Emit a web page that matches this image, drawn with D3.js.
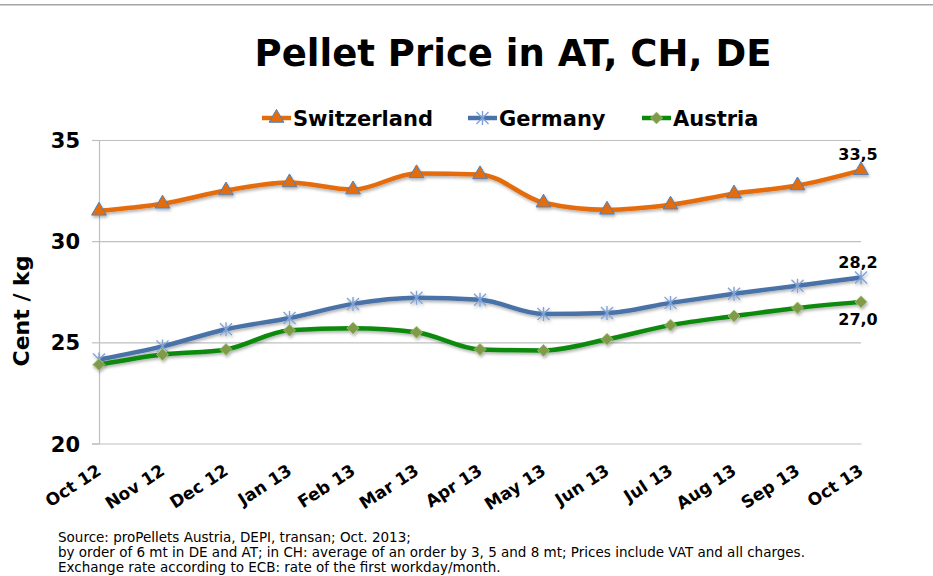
<!DOCTYPE html>
<html>
<head>
<meta charset="utf-8">
<script src="https://cdn.jsdelivr.net/npm/d3@7"></script>
<style>
  body { margin: 0; background: #fff; }
  svg { display: block; font-family: "DejaVu Sans", Verdana, sans-serif; }
</style>
</head>
<body>
<div id="chart"></div>
<script>
// month labels on the x axis
const months = ["Oct 12", "Nov 12", "Dec 12", "Jan 13", "Feb 13", "Mar 13", "Apr 13",
                "May 13", "Jun 13", "Jul 13", "Aug 13", "Sep 13", "Oct 13"];

// cent / kg
const switzerland = [31.5, 31.85, 32.5, 32.9, 32.55, 33.35, 33.3, 31.9, 31.55, 31.8, 32.35, 32.75, 33.5];
const germany     = [24.15, 24.8, 25.65, 26.2, 26.9, 27.2, 27.1, 26.4, 26.45, 26.95, 27.4, 27.8, 28.2];
const austria     = [23.9, 24.4, 24.65, 25.6, 25.7, 25.5, 24.65, 24.6, 25.15, 25.85, 26.3, 26.7, 27.0];

const yTicks = [20, 25, 30, 35];

const footnotes = [
  "Source: proPellets Austria, DEPI, transan; Oct. 2013;",
  "by order of 6 mt in DE and AT; in CH: average of an order by 3, 5 and 8 mt; Prices include VAT and all charges.",
  "Exchange rate according to ECB: rate of the first workday/month."
];

const series = [
  {name: "Switzerland", values: switzerland, line: "#E46C0A", marker: "triangle", label: "33,5", labelDy: -10},
  {name: "Germany", values: germany, line: "#4A72A8", marker: "star", label: "28,2", labelDy: -10},
  {name: "Austria", values: austria, line: "#0A8A0A", marker: "diamond", label: "27,0", labelDy: 23}
];

const W = 933, H = 576;
const svg = d3.select("#chart").append("svg")
    .attr("width", W)
    .attr("height", H);

const defs = svg.append("defs");
defs.append("filter").attr("id", "shadow")
    .attr("x", "-20%").attr("y", "-20%").attr("width", "140%").attr("height", "160%")
  .append("feDropShadow")
    .attr("dx", 1).attr("dy", 2).attr("stdDeviation", 1.4)
    .attr("flood-color", "#000").attr("flood-opacity", 0.3);

// thin border at the very top
svg.append("line").attr("x1", 0).attr("x2", W).attr("y1", 4.5).attr("y2", 4.5)
    .attr("stroke", "#a6a6a6").attr("stroke-width", 1);
svg.append("line").attr("x1", 0).attr("x2", W).attr("y1", 5.5).attr("y2", 5.5)
    .attr("stroke", "#d0d0d0").attr("stroke-width", 1);

const x = d3.scalePoint().domain(months).range([99, 861]);
const y = d3.scaleLinear().domain([20, 35]).range([443.5, 140]);

// gridlines
svg.append("g")
    .attr("transform", "translate(99,0)")
    .call(d3.axisLeft(y).tickValues(yTicks.slice(1)).tickSize(-(861 - 99)).tickFormat(""))
    .call(g => g.select(".domain").remove())
    .call(g => g.selectAll("line").attr("stroke", "#bfbfbf").attr("stroke-width", 1.2));

// y axis
svg.append("g")
    .attr("transform", "translate(99,0)")
    .call(d3.axisLeft(y).tickValues(yTicks).tickSize(7).tickPadding(12))
    .call(g => g.select(".domain").attr("stroke", "#bfbfbf").attr("stroke-width", 1.2))
    .call(g => g.selectAll(".tick line").attr("stroke", "#bfbfbf").attr("stroke-width", 1.2))
    .call(g => g.selectAll("text")
        .attr("font-family", "DejaVu Sans, Verdana, sans-serif")
        .attr("font-size", 21).attr("font-weight", "bold").attr("fill", "#000")
        .attr("dy", "0.36em"));

// x axis
svg.append("g")
    .attr("transform", `translate(0,${y(20)})`)
    .call(d3.axisBottom(x).tickSize(0))
    .call(g => g.select(".domain").attr("stroke", "#bfbfbf").attr("stroke-width", 1.2))
    .call(g => g.selectAll("text")
        .attr("font-family", "DejaVu Sans, Verdana, sans-serif")
        .attr("font-size", 17).attr("font-weight", "bold").attr("fill", "#000")
        .attr("text-anchor", "end")
        .attr("dy", 0)
        .attr("y", 0)
        .attr("transform", "translate(3,30) rotate(-33)"));

// y title
svg.append("text")
    .attr("transform", "translate(29,311) rotate(-90)")
    .attr("text-anchor", "middle")
    .attr("font-size", 22).attr("font-weight", "bold")
    .text("Cent / kg");

// title
svg.append("text")
    .attr("x", 513).attr("y", 66)
    .attr("text-anchor", "middle")
    .attr("font-size", 37).attr("font-weight", "bold")
    .text("Pellet Price in AT, CH, DE");

function drawMarker(sel, s) {
  if (s.marker === "triangle") {
    sel.append("path")
        .attr("d", d3.symbol(d3.symbolTriangle, 95)())
        .attr("fill", "#E46C0A").attr("stroke", "#4F81BD").attr("stroke-width", 1);
  } else if (s.marker === "star") {
    sel.append("path")
        .attr("d", "M-6,-6L6,6M-6,6L6,-6M0,-7L0,7")
        .attr("fill", "none").attr("stroke", "#7FA3D6").attr("stroke-width", 1.4);
  } else {
    sel.append("path")
        .attr("d", "M0,-6L6,0L0,6L-6,0Z")
        .attr("fill", "#7F9A48").attr("stroke", "#A9C47A").attr("stroke-width", 0.8);
  }
}

const line = d3.line()
    .x((d, i) => x(months[i]))
    .y(d => y(d))
    .curve(d3.curveMonotoneX);

series.forEach(s => {
  const g = svg.append("g").attr("filter", "url(#shadow)");
  g.append("path")
      .datum(s.values)
      .attr("fill", "none")
      .attr("stroke", s.line)
      .attr("stroke-width", 4.5)
      .attr("stroke-linejoin", "round")
      .attr("d", line);

  g.selectAll("g.pt")
    .data(s.values)
    .enter().append("g")
      .attr("class", "pt")
      .attr("transform", (d, i) => `translate(${x(months[i])},${y(d)})`)
      .each(function() { drawMarker(d3.select(this), s); });

  const last = s.values[s.values.length - 1];
  svg.append("text")
      .attr("x", x(months[months.length - 1]) - 3)
      .attr("y", y(last) + s.labelDy)
      .attr("text-anchor", "middle")
      .attr("font-size", 16).attr("font-weight", "bold")
      .text(s.label);
});

// legend
const legendX = [262, 468, 642];
series.forEach((s, i) => {
  const lg = svg.append("g").attr("transform", `translate(${legendX[i]},118)`);
  lg.append("line").attr("x1", 0).attr("x2", 29).attr("y1", 0).attr("y2", 0)
      .attr("stroke", s.line).attr("stroke-width", 4.5);
  const m = lg.append("g").attr("transform", "translate(14.5,0)");
  drawMarker(m, s);
  lg.append("text")
      .attr("x", 31).attr("y", 7.5)
      .attr("font-size", 21).attr("font-weight", "bold")
      .text(s.name);
});

// footnotes
svg.append("g").selectAll("text")
  .data(footnotes)
  .enter().append("text")
    .attr("x", 58)
    .attr("y", (d, i) => 542 + i * 15)
    .attr("font-size", 13.5)
    .attr("fill", "#000")
    .text(d => d);
</script>
</body>
</html>
